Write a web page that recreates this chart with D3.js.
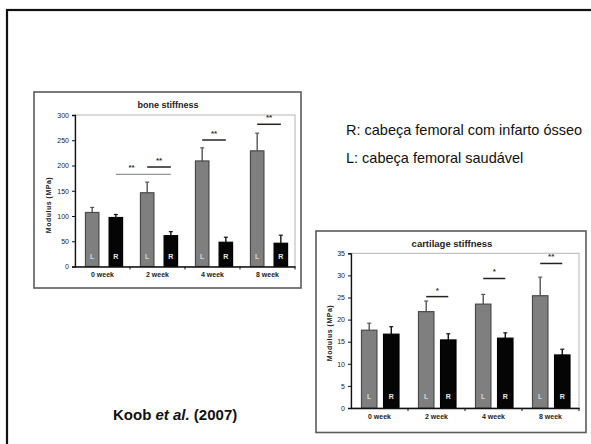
<!DOCTYPE html>
<html>
<head>
<meta charset="utf-8">
<script src="https://cdn.jsdelivr.net/npm/d3@7"></script>
<style>
  html, body { margin: 0; padding: 0; background: #fff; }
  svg { display: block; font-family: "Liberation Sans", Arial, sans-serif; }
</style>
</head>
<body>
<svg id="c" width="591" height="444"></svg>
<script>
// ---- data ----
const weeks = ["0 week", "2 week", "4 week", "8 week"];
const groups = ["L", "R"];

const boneL = [107, 146, 209, 229];
const boneLerr = [10, 21, 26, 35];
const boneR = [97, 61, 48, 46];
const boneRerr = [6, 8, 10, 16];
const boneTicks = [0, 50, 100, 150, 200, 250, 300];
// significance: [fromWeek, fromGroup, toWeek, toGroup, value, label]
const boneSig = [
  ["0 week", "R", "2 week", "R", 182.6, "**"],
  ["2 week", "L", "2 week", "R", 197, "**"],
  ["4 week", "L", "4 week", "R", 250.5, "**"],
  ["8 week", "L", "8 week", "R", 281.6, "**"]
];

const cartL = [17.6, 21.8, 23.5, 25.4];
const cartLerr = [1.6, 2.4, 2.2, 4.2];
const cartR = [16.7, 15.4, 15.8, 12.0];
const cartRerr = [1.7, 1.4, 1.2, 1.3];
const cartTicks = [0, 5, 10, 15, 20, 25, 30, 35];
const cartSig = [
  ["2 week", "L", "2 week", "R", 25.2, "*"],
  ["4 week", "L", "4 week", "R", 29.3, "*"],
  ["8 week", "L", "8 week", "R", 32.7, "**"]
];

const legendLines = ["R: cabeça femoral com infarto ósseo", "L: cabeça femoral saudável"];

const svg = d3.select("#c");

// slide border (left/top visible)
svg.append("rect").attr("x", 7).attr("y", 10).attr("width", 640).attr("height", 500)
  .attr("fill", "none").attr("stroke", "#111").attr("stroke-width", 2.2);

function drawChart(cfg) {
  const g = svg.append("g");
  // outer frame
  g.append("rect").attr("x", cfg.frame[0]).attr("y", cfg.frame[1])
    .attr("width", cfg.frame[2]).attr("height", cfg.frame[3])
    .attr("fill", "#fff").attr("stroke", "#5a5a5a").attr("stroke-width", 1.6);

  const x = d3.scaleBand().domain(weeks).range([cfg.x0, cfg.x1]).padding(0);
  const xi = d3.scaleBand().domain(groups)
    .range([x.bandwidth() * cfg.inner[0], x.bandwidth() * cfg.inner[1]])
    .paddingInner(cfg.innerPad).paddingOuter(0);
  const y = d3.scaleLinear().domain([0, cfg.ymax]).range([cfg.y0, cfg.y1]);

  // plot area border
  g.append("rect").attr("x", cfg.x0).attr("y", y(cfg.ymax))
    .attr("width", cfg.x1 - cfg.x0).attr("height", cfg.y0 - y(cfg.ymax))
    .attr("fill", "none").attr("stroke", "#b5b5b5").attr("stroke-width", 1);

  // title
  g.append("text").attr("x", cfg.titleX).attr("y", cfg.titleY)
    .attr("text-anchor", "middle").attr("dominant-baseline", "middle")
    .attr("font-size", cfg.titleSize).attr("font-weight", "bold").attr("fill", "#222")
    .text(cfg.title);

  // y label
  g.append("text")
    .attr("transform", `translate(${cfg.ylabX},${cfg.ylabY}) rotate(-90)`)
    .attr("text-anchor", "middle").attr("dominant-baseline", "middle")
    .attr("font-size", 7).attr("font-weight", "bold").attr("fill", "#222")
    .attr("letter-spacing", 0.5)
    .text("Modulus (MPa)");

  const rows = weeks.map((w, i) => ({
    w,
    vals: [
      { grp: "L", v: cfg.L[i], e: cfg.Lerr[i] },
      { grp: "R", v: cfg.R[i], e: cfg.Rerr[i] }
    ]
  }));

  const cat = g.selectAll("g.cat").data(rows).join("g")
    .attr("transform", d => `translate(${x(d.w)},0)`);

  const bar = cat.selectAll("g.bar").data(d => d.vals).join("g");

  // error bars (upper only)
  bar.append("line")
    .attr("x1", d => xi(d.grp) + xi.bandwidth() / 2)
    .attr("x2", d => xi(d.grp) + xi.bandwidth() / 2)
    .attr("y1", d => y(d.v)).attr("y2", d => y(d.v + d.e))
    .attr("stroke", d => d.grp === "L" ? "#555" : "#111").attr("stroke-width", 1.4);
  bar.append("line")
    .attr("x1", d => xi(d.grp) + xi.bandwidth() / 2 - 2)
    .attr("x2", d => xi(d.grp) + xi.bandwidth() / 2 + 2)
    .attr("y1", d => y(d.v + d.e)).attr("y2", d => y(d.v + d.e))
    .attr("stroke", d => d.grp === "L" ? "#555" : "#111").attr("stroke-width", 1.2);

  bar.append("rect")
    .attr("x", d => xi(d.grp)).attr("width", xi.bandwidth())
    .attr("y", d => y(d.v)).attr("height", d => y(0) - y(d.v))
    .attr("fill", d => d.grp === "L" ? "#7f7f7f" : "#050505")
    .attr("stroke", d => d.grp === "L" ? "#4a4a4a" : "#000").attr("stroke-width", 1.2);

  bar.append("text")
    .attr("x", d => xi(d.grp) + xi.bandwidth() / 2)
    .attr("y", cfg.letterY)
    .attr("text-anchor", "middle").attr("dominant-baseline", "middle")
    .attr("font-size", 7).attr("font-weight", "bold")
    .attr("fill", d => d.grp === "L" ? "#d8d8d8" : "#e8e8e8")
    .text(d => d.grp);

  // y axis
  const ya = g.append("g").attr("transform", `translate(${cfg.x0},0)`)
    .call(d3.axisLeft(y).tickValues(cfg.ticks).tickSize(3).tickPadding(3).tickFormat(d3.format("d")));
  ya.select(".domain").attr("stroke", "#111").attr("stroke-width", 1.3);
  ya.selectAll(".tick line").attr("stroke", "#111");
  ya.selectAll(".tick text").attr("font-size", 7).attr("fill", "#222")
    .attr("font-family", "Liberation Sans, Arial, sans-serif");

  // x axis
  const xa = g.append("g").attr("transform", `translate(0,${cfg.y0})`)
    .call(d3.axisBottom(x).tickSize(0).tickPadding(cfg.xPad));
  xa.select(".domain").attr("stroke", "#111").attr("stroke-width", 1.3);
  xa.selectAll(".tick text").attr("font-size", 7).attr("fill", "#222").attr("font-weight", "bold")
    .attr("font-family", "Liberation Sans, Arial, sans-serif");
  // category separator ticks
  g.selectAll("line.sep").data(weeks.slice(1).concat(["end"])).join("line")
    .attr("x1", d => d === "end" ? cfg.x1 : x(d))
    .attr("x2", d => d === "end" ? cfg.x1 : x(d))
    .attr("y1", cfg.y0).attr("y2", cfg.y0 + 3)
    .attr("stroke", "#111").attr("stroke-width", 1);

  // significance markers
  const sg = g.selectAll("g.sig").data(cfg.sig).join("g");
  const cx = (w, grp) => x(w) + xi(grp) + xi.bandwidth() / 2;
  sg.append("line")
    .attr("x1", d => cx(d[0], d[1])).attr("x2", d => cx(d[2], d[3]))
    .attr("y1", d => y(d[4])).attr("y2", d => y(d[4]))
    .attr("stroke", d => d[0] !== d[2] ? "#777" : "#222")
    .attr("stroke-width", d => d[0] !== d[2] ? 1 : 1.5);
  sg.append("text")
    .attr("x", d => d[0] !== d[2]
      ? (cx(d[0], d[1]) + cx(d[2], "L")) / 2
      : (cx(d[0], d[1]) + cx(d[2], d[3])) / 2)
    .attr("y", d => y(d[4]) - 4)
    .attr("text-anchor", "middle")
    .attr("font-size", 8).attr("font-weight", "bold").attr("fill", "#333")
    .text(d => d[5]);
}

drawChart({
  frame: [34, 92, 267, 196],
  x0: 75, x1: 295, y0: 266.5, y1: 115, ymax: 300,
  inner: [0.19, 0.865], innerPad: 0.43,
  L: boneL, Lerr: boneLerr, R: boneR, Rerr: boneRerr,
  ticks: boneTicks, sig: boneSig,
  title: "bone stiffness", titleX: 168, titleY: 105.5, titleSize: 9,
  ylabX: 49, ylabY: 205, letterY: 257, xPad: 6
});

drawChart({
  frame: [316, 231, 270, 201.5],
  x0: 351, x1: 579, y0: 408, y1: 253.3, ymax: 35,
  inner: [0.184, 0.842], innerPad: 0.3,
  L: cartL, Lerr: cartLerr, R: cartR, Rerr: cartRerr,
  ticks: cartTicks, sig: cartSig,
  title: "cartilage stiffness", titleX: 452, titleY: 244, titleSize: 9.5,
  ylabX: 330, ylabY: 333, letterY: 397, xPad: 6
});

// legend text
svg.selectAll("text.leg").data(legendLines).join("text")
  .attr("x", 346).attr("y", (d, i) => 135 + i * 28)
  .attr("font-size", 14.5).attr("fill", "#111")
  .text(d => d);

// citation
const cite = svg.append("text").attr("x", 113).attr("y", 420)
  .attr("font-size", 15).attr("font-weight", "bold").attr("fill", "#111");
cite.append("tspan").text("Koob ");
cite.append("tspan").attr("font-style", "italic").text("et al.");
cite.append("tspan").text(" (2007)");
</script>
</body>
</html>
